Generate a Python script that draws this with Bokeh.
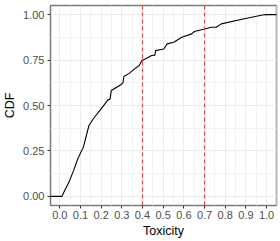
from bokeh.plotting import figure
from bokeh.models import FixedTicker, Span, Range1d
from bokeh.embed import file_html
from bokeh.resources import INLINE

# ECDF of toxicity
tox = [-0.06, 0.01, 0.02, 0.045, 0.067, 0.087, 0.114, 0.141, 0.162, 0.195, 0.233, 0.243, 0.249,
       0.289, 0.305, 0.31, 0.337, 0.36, 0.384, 0.397, 0.42, 0.444, 0.46, 0.463, 0.503, 0.519,
       0.551, 0.59, 0.638, 0.651, 0.701, 0.733, 0.757, 0.781, 0.876, 0.98, 1.0, 1.06]
cdf = [0.0, 0.0, 0.024, 0.08, 0.143, 0.207, 0.271, 0.39, 0.427, 0.475, 0.531, 0.535, 0.582,
       0.61, 0.623, 0.66, 0.678, 0.70, 0.72, 0.747, 0.76, 0.775, 0.777, 0.802, 0.811, 0.839,
       0.848, 0.875, 0.894, 0.907, 0.921, 0.93, 0.93, 0.949, 0.973, 0.998, 1.0, 1.0]
thresholds = [0.4, 0.7]
x_ticks = [0.0, 0.1, 0.2, 0.3, 0.4, 0.5, 0.6, 0.7, 0.8, 0.9, 1.0]
x_minor = [-0.05, 0.05, 0.15, 0.25, 0.35, 0.45, 0.55, 0.65, 0.75, 0.85, 0.95, 1.05]
y_ticks = [0.0, 0.25, 0.5, 0.75, 1.0]
y_minor = [0.125, 0.375, 0.625, 0.875]

p = figure(width=280, height=241, output_backend="svg", toolbar_location=None,
           x_range=Range1d(-0.045, 1.048), y_range=Range1d(-0.05, 1.05),
           min_border_left=47, min_border_right=4, min_border_top=5, min_border_bottom=36,
           x_axis_label="Toxicity", y_axis_label="CDF")
p.background_fill_color = "white"
p.border_fill_color = "white"
p.outline_line_color = "#7a7a7a"
p.outline_line_width = 1.5

p.xaxis.ticker = FixedTicker(ticks=x_ticks, minor_ticks=x_minor)
p.yaxis.ticker = FixedTicker(ticks=y_ticks, minor_ticks=y_minor)
p.xaxis.major_label_overrides = {t: f"{t:.1f}" for t in x_ticks}
p.yaxis.major_label_overrides = {t: f"{t:.2f}" for t in y_ticks}

for ax in (p.xaxis, p.yaxis):
    ax.axis_line_color = None
    ax.major_tick_in = 0
    ax.major_tick_out = 3
    ax.major_tick_line_color = "#333333"
    ax.minor_tick_line_color = None
    ax.major_label_text_font = "Liberation Sans"
    ax.major_label_text_font_size = "11px"
    ax.major_label_text_color = "#4d4d4d"
    ax.axis_label_text_font = "Liberation Sans"
    ax.axis_label_text_font_size = "12.5px"
    ax.axis_label_text_font_style = "normal"
    ax.axis_label_text_color = "black"

p.yaxis.major_label_standoff = 2
p.yaxis.axis_label_standoff = 3
p.xaxis.major_label_standoff = 1
p.xaxis.axis_label_standoff = 2

p.xgrid.grid_line_color = "#ebebeb"
p.ygrid.grid_line_color = "#ebebeb"
p.xgrid.minor_grid_line_color = "#f2f2f2"
p.ygrid.minor_grid_line_color = "#f2f2f2"

for t in thresholds:
    p.add_layout(Span(location=t, dimension="height", line_color="#f0404f",
                      line_width=1.2, line_dash="4 3"))

p.line(tox, cdf, line_color="black", line_width=1.1)

open("out.html", "w").write(file_html(p, INLINE))
